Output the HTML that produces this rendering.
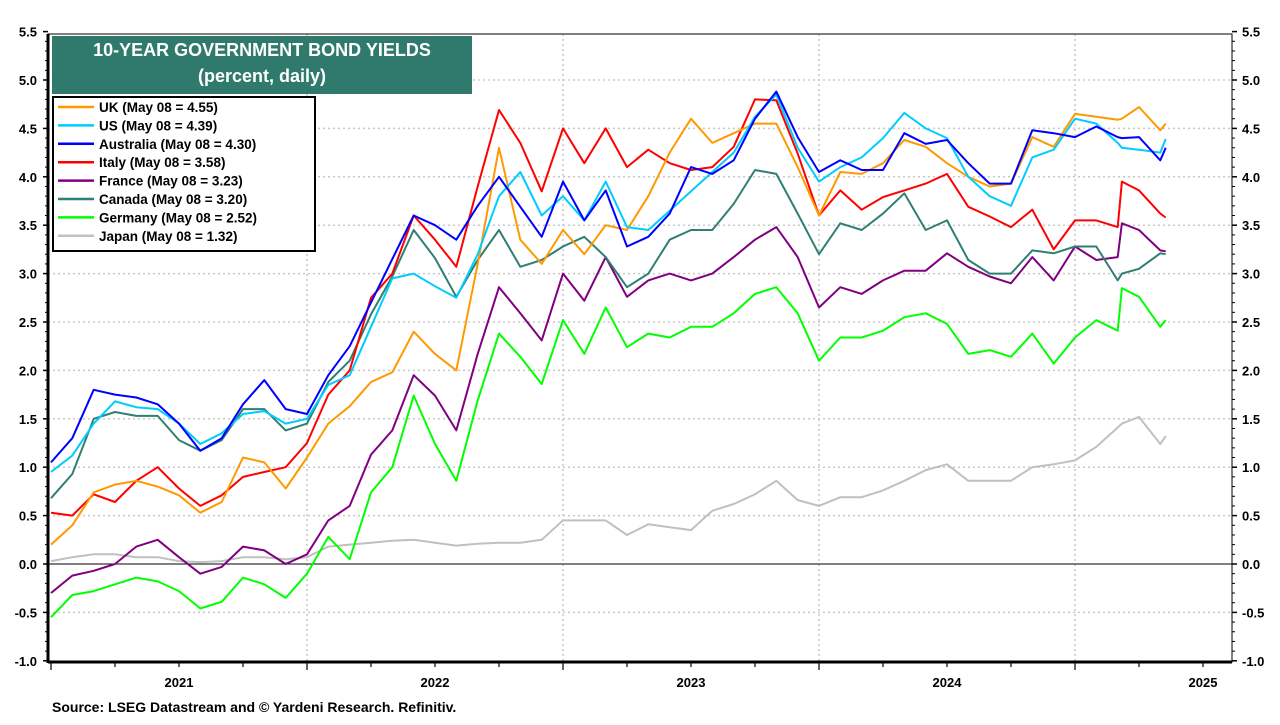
<!DOCTYPE html>
<html><head><meta charset="utf-8">
<style>
html,body{margin:0;padding:0;background:#fff;}
body{width:1280px;height:720px;overflow:hidden;font-family:"Liberation Sans",Arial,sans-serif;}
svg text{font-family:"Liberation Sans",Arial,sans-serif;font-weight:bold;}
</style></head>
<body>
<svg id="chart" width="1280" height="720" viewBox="0 0 1280 720" xmlns="http://www.w3.org/2000/svg">
  <rect x="0" y="0" width="1280" height="720" fill="#fff"/>
  <g id="grid"></g>
  <g id="series"></g>
  <g id="axes"></g>
  <g>
    <rect x="52" y="36" width="420" height="58" fill="#2f7a6c"/>
    <text x="262" y="56" text-anchor="middle" fill="#fff" font-size="18">10-YEAR GOVERNMENT BOND YIELDS</text>
    <text x="262" y="82" text-anchor="middle" fill="#fff" font-size="18">(percent, daily)</text>
  </g>
  <g id="legend">
    <rect x="53" y="97" width="262" height="154" fill="#fff" stroke="#000" stroke-width="2"/>
  </g>
  <text x="52" y="712" font-size="14" fill="#000">Source: LSEG Datastream and © Yardeni Research. Refinitiv.</text>
</svg>
<script>
// month index from Jan 1 2021
const months = [0,1,2,3,4,5,6,7,8,9,10,11,12,13,14,15,16,17,18,19,20,21,22,23,24,25,26,27,28,29,30,31,32,33,34,35,36,37,38,39,40,41,42,43,44,45,46,47,48,49,50,50.2,51,52,52.25];
const seriesNames = ["UK (May 08 = 4.55)","US (May 08 = 4.39)","Australia (May 08 = 4.30)","Italy (May 08 = 3.58)","France (May 08 = 3.23)","Canada (May 08 = 3.20)","Germany (May 08 = 2.52)","Japan (May 08 = 1.32)"];
const ukVals = [0.2,0.4,0.74,0.82,0.86,0.8,0.71,0.53,0.64,1.1,1.05,0.78,1.1,1.45,1.63,1.88,1.98,2.4,2.17,
 2.0,3.1,4.3,3.35,3.1,3.45,3.2,3.5,3.45,3.8,4.25,4.6,4.35,4.45,4.55,4.55,4.1,
 3.6,4.05,4.03,4.14,4.38,4.31,4.14,4.0,3.9,3.93,4.41,4.31,4.65,4.62,4.59,4.6,4.72,4.48,4.55];
const usVals = [0.95,1.12,1.45,1.68,1.62,1.60,1.45,1.24,1.35,1.55,1.58,1.45,1.50,1.85,1.95,2.45,2.95,3.0,2.87,
 2.75,3.2,3.8,4.05,3.6,3.8,3.55,3.95,3.48,3.45,3.65,3.85,4.05,4.25,4.62,4.85,4.3,
 3.95,4.1,4.2,4.4,4.66,4.5,4.4,4.0,3.8,3.7,4.2,4.28,4.6,4.55,4.35,4.3,4.28,4.25,4.39];
const ausVals = [1.05,1.3,1.8,1.75,1.72,1.65,1.45,1.17,1.3,1.65,1.9,1.6,1.55,1.95,2.25,2.7,3.15,3.6,3.5,
 3.35,3.7,4.0,3.69,3.38,3.95,3.55,3.86,3.28,3.38,3.62,4.1,4.03,4.17,4.6,4.88,4.41,
 4.05,4.17,4.07,4.07,4.45,4.34,4.38,4.14,3.93,3.93,4.48,4.45,4.41,4.52,4.41,4.4,4.41,4.17,4.30];
const itaVals = [0.53,0.5,0.72,0.64,0.86,1.0,0.78,0.6,0.71,0.9,0.95,1.0,1.25,1.75,2.0,2.75,3.0,3.6,3.35,
 3.07,3.9,4.69,4.35,3.85,4.5,4.14,4.5,4.1,4.28,4.14,4.07,4.1,4.31,4.8,4.79,4.24,
 3.6,3.86,3.66,3.79,3.86,3.93,4.03,3.69,3.59,3.48,3.66,3.25,3.55,3.55,3.48,3.95,3.86,3.62,3.58];
const fraVals = [-0.3,-0.12,-0.07,0.0,0.18,0.25,0.07,-0.1,-0.03,0.18,0.14,0.0,0.1,0.45,0.6,1.13,1.38,1.95,1.74,
 1.38,2.17,2.86,2.59,2.31,3.0,2.72,3.17,2.76,2.93,3.0,2.93,3.0,3.17,3.35,3.48,3.17,
 2.65,2.86,2.79,2.93,3.03,3.03,3.21,3.07,2.97,2.9,3.17,2.93,3.28,3.14,3.17,3.52,3.45,3.24,3.23];
const canVals = [0.68,0.93,1.5,1.57,1.53,1.53,1.28,1.17,1.28,1.6,1.6,1.38,1.45,1.88,2.1,2.58,2.97,3.45,3.16,
 2.76,3.14,3.45,3.07,3.14,3.28,3.38,3.17,2.86,3.0,3.35,3.45,3.45,3.72,4.07,4.03,3.62,
 3.2,3.52,3.45,3.62,3.83,3.45,3.55,3.14,3.0,3.0,3.24,3.21,3.28,3.28,2.93,3.0,3.05,3.21,3.20];
const gerVals = [-0.55,-0.32,-0.28,-0.21,-0.14,-0.18,-0.28,-0.46,-0.39,-0.14,-0.21,-0.35,-0.1,0.28,0.05,0.74,1.0,1.74,1.24,
 0.86,1.69,2.38,2.14,1.86,2.52,2.17,2.65,2.24,2.38,2.34,2.45,2.45,2.59,2.79,2.86,2.59,
 2.1,2.34,2.34,2.41,2.55,2.59,2.48,2.17,2.21,2.14,2.38,2.07,2.34,2.52,2.41,2.85,2.76,2.45,2.52];
const jpnVals = [0.03,0.07,0.1,0.1,0.07,0.07,0.03,0.02,0.03,0.07,0.07,0.05,0.07,0.18,0.2,0.22,0.24,0.25,0.22,
 0.19,0.21,0.22,0.22,0.25,0.45,0.45,0.45,0.3,0.41,0.38,0.35,0.55,0.62,0.72,0.86,0.66,
 0.6,0.69,0.69,0.76,0.86,0.97,1.03,0.86,0.86,0.86,1.0,1.03,1.07,1.21,1.41,1.45,1.52,1.24,1.32];
const yTicks = [5.5,5.0,4.5,4.0,3.5,3.0,2.5,2.0,1.5,1.0,0.5,0.0,-0.5,-1.0];
const yearLabels = ["2021","2022","2023","2024","2025"];

const NS="http://www.w3.org/2000/svg";
const L=48,R=1232,T=34,B=662;
const x0=51, pxPerMonth=256/12;
function xs(m){return x0+m*pxPerMonth;}
function ys(v){return 564-v*96.8;}
function mk(tag,attrs,parent){const e=document.createElementNS(NS,tag);for(const k in attrs)e.setAttribute(k,attrs[k]);parent.appendChild(e);return e;}

const grid=document.getElementById('grid');
const axes=document.getElementById('axes');
const ser=document.getElementById('series');
const leg=document.getElementById('legend');

yTicks.forEach(v=>{
  const y=ys(v);
  if(v!==0 && v!==5.5 && v!==-1.0){
    const g=mk('line',{x1:L,x2:R,y1:y,y2:y,stroke:'#c8c8c8','stroke-width':1.5,'stroke-dasharray':'2,3'},grid);
    
    
  }
  const t1=mk('text',{x:37,y:y+5,'text-anchor':'end','font-size':13,fill:'#000'},axes);
  t1.textContent=v.toFixed(1);
  
  
  const t2=mk('text',{x:1242,y:y+5,'text-anchor':'start','font-size':13,fill:'#000'},axes);
  t2.textContent=v.toFixed(1);
  
  
  mk('line',{x1:L-5,x2:L,y1:y,y2:y,stroke:'#000','stroke-width':1.5},axes);
  mk('line',{x1:R,x2:R+5,y1:y,y2:y,stroke:'#000','stroke-width':1.5},axes);
  // minor ticks
  for(let k=1;k<5;k++){const ym=y+k*9.68; if(ym<B){mk('line',{x1:L-3,x2:L,y1:ym,y2:ym,stroke:'#000','stroke-width':1},axes);mk('line',{x1:R,x2:R+3,y1:ym,y2:ym,stroke:'#000','stroke-width':1},axes);}}
});
// year gridlines and ticks
for(let yr=1;yr<=4;yr++){
  const x=xs(yr*12);
  const g=mk('line',{x1:x,x2:x,y1:T,y2:B,stroke:'#c8c8c8','stroke-width':1.5,'stroke-dasharray':'2,3'},grid);
  
  
}
for(let q=0;q<=19;q++){
  const x=xs(q*3);
  if(x>R)break;
  mk('line',{x1:x,x2:x,y1:B,y2:B+(q%4===0?8:5),stroke:'#000','stroke-width':1.2},axes);
}
yearLabels.forEach((lab,i)=>{
  const t=mk('text',{x:xs(i*12+6),y:687,'text-anchor':'middle','font-size':13,fill:'#000'},axes);
  t.textContent=lab;
  
  
});
// zero line
const z=mk('line',{x1:L,x2:R,y1:ys(0),y2:ys(0),stroke:'#000','stroke-width':1},ser);



const colors=['#ff9900','#00ccff','#0000ff','#ff0000','#800080','#2f7f74','#00ff00','#c0c0c0'];
const allVals=[ukVals,usVals,ausVals,itaVals,fraVals,canVals,gerVals,jpnVals];
const keys=['uk','us','australia','italy','france','canada','germany','japan'];
const order=[7,6,4,5,3,0,1,2];
order.forEach(i=>{
  const vals=allVals[i];
  const d=months.map((m,j)=>(j?'L':'M')+xs(m).toFixed(1)+','+ys(vals[j]).toFixed(1)).join(' ');
  const p=mk('path',{d:d,fill:'none',stroke:colors[i],'stroke-width':2,'stroke-linejoin':'round'},ser);
  
  
});
// plot frame
mk('rect',{x:L,y:T,width:R-L,height:B-T,fill:'none',stroke:'#000','stroke-width':1},axes);
mk('line',{x1:L,x2:L,y1:T,y2:B+1,stroke:'#000','stroke-width':3},axes);
mk('line',{x1:L,x2:R,y1:B,y2:B,stroke:'#000','stroke-width':3},axes);

seriesNames.forEach((n,i)=>{
  const y=107+i*18.4;
  const g=mk('g',{},leg);
  
  
  mk('line',{x1:58,x2:94,y1:y,y2:y,stroke:colors[i],'stroke-width':2.5},g);
  const t=mk('text',{x:99,y:y+5,'font-size':13.5,fill:'#000'},g);
  t.textContent=n;
});
</script>
</body></html>
